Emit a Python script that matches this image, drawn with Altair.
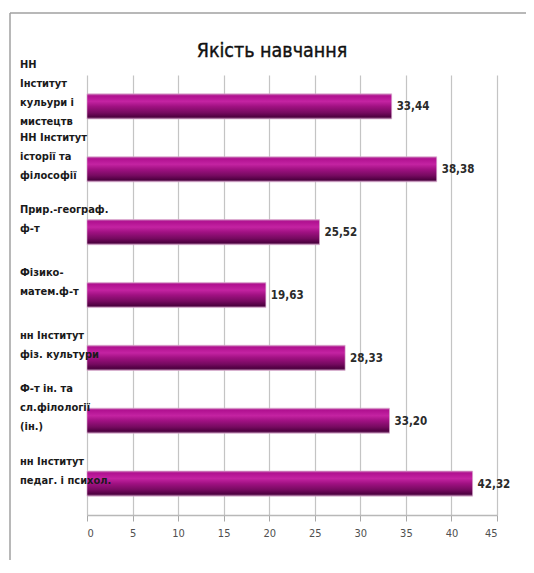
import altair as alt
import pandas as pd

categories = [
    "НН\nІнститут\nкульури і\nмистецтв",
    "НН Інститут\nісторії та\nфілософії",
    "Прир.-географ.\nф-т",
    "Фізико-\nматем.ф-т",
    "нн Інститут\nфіз. культури",
    "Ф-т ін. та\nсл.філології\n(ін.)",
    "нн Інститут\nпедаг. і психол.",
]
values = [33.44, 38.38, 25.52, 19.63, 28.33, 33.20, 42.32]
x_ticks = [0, 5, 10, 15, 20, 25, 30, 35, 40, 45]
title_text = "Якість навчання"

df = pd.DataFrame({"cat": categories, "v": values})
title_df = pd.DataFrame({"t": [title_text]})

FONT = "DejaVu Sans Condensed"
LINE_H = 19

grad = alt.Gradient(
    gradient="linear",
    x1=0, x2=0, y1=0, y2=1,
    stops=[
        alt.GradientStop(color="#c870b4", offset=0.0),
        alt.GradientStop(color="#b01090", offset=0.08),
        alt.GradientStop(color="#c423a2", offset=0.3),
        alt.GradientStop(color="#a01182", offset=0.5),
        alt.GradientStop(color="#760a60", offset=0.75),
        alt.GradientStop(color="#4e0040", offset=0.92),
        alt.GradientStop(color="#b080a8", offset=1.0),
    ],
)

y_scale = alt.Scale(domain=categories, paddingInner=0.6, paddingOuter=0.3)
y_enc = alt.Y("cat:N", sort=categories, scale=y_scale, axis=None)

x_enc = alt.X(
    "v:Q",
    scale=alt.Scale(domain=[0, 45], nice=False),
    axis=alt.Axis(
        title=None,
        values=x_ticks,
        grid=True,
        gridColor="#c4c4c4",
        gridWidth=1.2,
        domainColor="#b8b8b8",
        domainWidth=1.5,
        tickColor="#a8a8a8",
        tickSize=6,
        labelPadding=6,
        labelFont=FONT,
        labelFontSize=11,
        labelColor="#505050",
        zindex=0,
    ),
)

bars = alt.Chart(df).mark_bar(color=grad, stroke="#d8a8cc", strokeWidth=0.6).encode(
    x=x_enc, y=y_enc
)

values_text = alt.Chart(df).transform_calculate(
    lab="replace(format(datum.v, '.2f'), '.', ',')"
).mark_text(
    align="left", baseline="middle", dx=5, dy=1,
    font=FONT, fontSize=11.5, fontWeight="bold", color="#2a2a2a"
).encode(x="v:Q", y=y_enc, text="lab:N")

cat_text = alt.Chart(df).transform_calculate(
    lines="split(datum.cat, '\\n')"
).transform_calculate(
    n="length(datum.lines)"
).transform_flatten(
    ["lines"], as_=["line"]
).transform_window(
    rn="row_number()", groupby=["cat"]
).transform_calculate(
    off=f"(datum.rn - 1 - (datum.n - 1) / 2) * {LINE_H}"
).mark_text(
    align="left", baseline="middle",
    font=FONT, fontSize=11, fontWeight="bold", color="#1a1a1a"
).encode(
    x=alt.value(-67),
    y=y_enc,
    yOffset=alt.YOffset("off:Q", scale=None),
    text="line:N",
)

title_mark = alt.Chart(title_df).mark_text(
    align="center", baseline="alphabetic",
    font=FONT, fontSize=19.5, fontWeight="normal", color="#111111",
    stroke="#111111", strokeWidth=0.4
).encode(x=alt.value(185), y=alt.value(-18), text="t:N")

frame_left = alt.Chart(title_df).mark_rule(color="#a0a0a0", strokeWidth=1.5).encode(
    x=alt.value(-77), y=alt.value(-62), y2=alt.value(520)
)
frame_top = alt.Chart(title_df).mark_rule(color="#a0a0a0", strokeWidth=1.5).encode(
    x=alt.value(-77), x2=alt.value(460), y=alt.value(-62)
)

chart = alt.layer(
    frame_left, frame_top, bars, values_text, cat_text, title_mark
).properties(
    width=410,
    height=440,
    autosize=alt.AutoSizeParams(type="none"),
    padding={"left": 79, "top": 67, "right": 29, "bottom": 45},
).configure_view(stroke=None)

chart.save("out.html", embed_options={"renderer": "svg", "actions": False})
